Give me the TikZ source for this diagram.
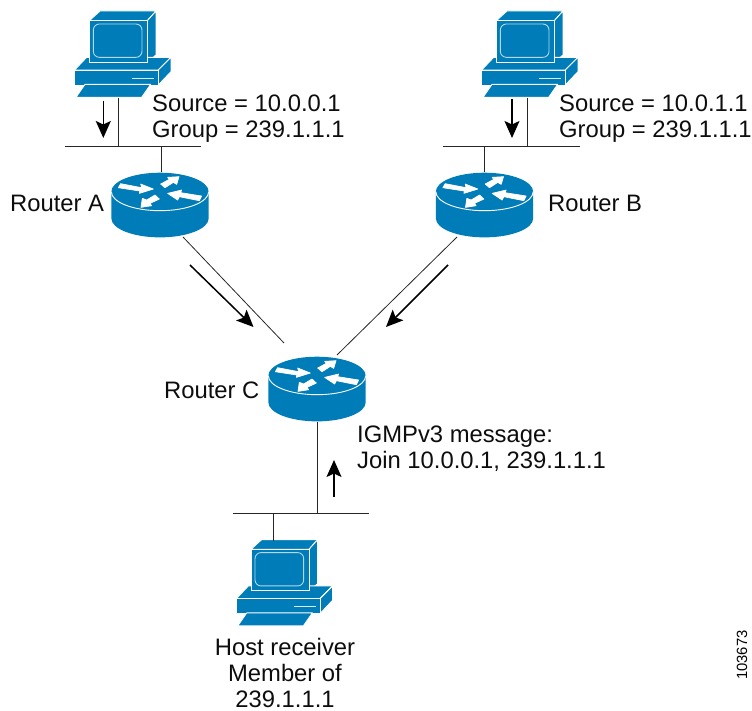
\documentclass[tikz,border=0pt]{standalone}
\usepackage{fontspec}
\setmainfont{Liberation Sans}
\usetikzlibrary{arrows.meta,calc}
\definecolor{cisco}{HTML}{007DB8}
\tikzset{
  x=1pt,y=-1pt,
  wire/.style={line width=0.8pt,black!85},
  flow/.style={line width=1.5pt,-{Stealth[length=17pt,width=15pt,inset=3.5pt]}},
  lbl/.style={inner sep=0pt,font=\fontsize{23.8}{26}\selectfont,text=black!95},
  lines/.style={lbl,align=left,anchor=west},
  anchorbox/.style={inner sep=0pt,minimum width=97pt,minimum height=66pt},
  face/.style={fill=cisco,draw=white,line width=0.9pt,line join=round},
  wht/.style={fill=white,draw=white,line width=0.7pt,line join=round},
  computer/.pic={
    \begin{scope}[x=0.3333pt,y=-0.3333pt]
      \path[face] (88,62)--(120,33)--(288,33)--(262,62)--cycle;
      \path[face] (262,62)--(288,33)--(288,165)--(262,187)--cycle;
      \path[face] (44,210)--(80,172)--(333,172)--(295,210)--cycle;
      \path[face] (295,210)--(333,172)--(333,215)--(295,255)--cycle;
      \path[face] (44,210) rectangle (295,255);
      \path[face] (88,62) rectangle (262,187);
      \draw[draw=white!70!cisco,line width=0.9pt,rounded corners=6pt] (100,72) rectangle (246,172);
      \draw[white!85!cisco,line width=1.1pt] (216,235)--(282,235);
      \path[face] (48,292)--(75,253)--(272,253)--(245,292)--cycle;
    \end{scope}
  },
  router/.pic={
    \begin{scope}[x=0.3333pt,y=-0.3333pt]
      \path[fill=cisco] (-146,0) -- (-146,80) arc[start angle=180,end angle=360,x radius=48.67pt,y radius=19pt]
        -- (146,0) arc[start angle=0,end angle=180,x radius=48.67pt,y radius=19pt] -- cycle;
      \draw[white,line width=0.9pt] (-146,0) arc[start angle=180,end angle=360,x radius=48.67pt,y radius=19pt];
      \path[wht] (-118,-24)--(-55,-12)--(-58,-23)--(-20,-8)--(-62,5)--(-60,-2)--(-125,-12)--cycle;
      \path[wht] (2,-23)--(28,-37)--(23,-43)--(57,-45)--(50,-22)--(40,-28)--(15,-12)--cycle;
      \path[wht] (-15,10)--(-40,25)--(-53,20)--(-57,47)--(-25,42)--(-30,35)--(-2,22)--cycle;
      \path[wht] (125,13)--(62,3)--(65,-5)--(23,5)--(53,25)--(58,15)--(118,27)--cycle;
    \end{scope}
  },
}
\begin{document}
\begin{tikzpicture}
\useasboundingbox (0,0) rectangle (752,711);
% routers
\node[anchorbox] (rA) at (160,205) {};
\node[anchorbox] (rB) at (484.5,205) {};
\node[anchorbox] (rC) at (317,389) {};
\pic at (160,191.7) {router};
\pic at (484.5,191.7) {router};
\pic at (317,375.7) {router};
% computers
\node[inner sep=0pt,minimum width=97pt,minimum height=90pt] (hA) at (122,52) {};
\node[inner sep=0pt,minimum width=97pt,minimum height=90pt] (hB) at (530,52) {};
\node[inner sep=0pt,minimum width=97pt,minimum height=90pt] (hC) at (284,586) {};
\pic at (60,0) {computer};
\pic at (467,0) {computer};
\pic at (221.7,528.6) {computer};
% LAN segments
\coordinate (lanAl) at (65,146);  \coordinate (lanAr) at (201,146);
\coordinate (lanBl) at (443,146); \coordinate (lanBr) at (580,146);
\coordinate (lanCl) at (233,513); \coordinate (lanCr) at (369,513);
\draw[wire] (lanAl)--(lanAr);
\draw[wire] (lanBl)--(lanBr);
\draw[wire] (lanCl)--(lanCr);
% stems
\coordinate (sA) at (118.5,98);
\coordinate (sB) at (527,98);
\coordinate (sC) at (273,541);
\draw[wire] (sA)--(sA |- lanAl);
\draw[wire] (sB)--(sB |- lanBl);
\draw[wire] (sC)--(sC |- lanCl);
\coordinate (tA) at (161,172);
\coordinate (tB) at (484.5,172);
\draw[wire] (tA)--(tA |- lanAl);
\draw[wire] (tB)--(tB |- lanBl);
\coordinate (bC) at (317,422);
\draw[wire] (bC)--(bC |- lanCl);
% router links
\coordinate (lA) at (183,237); \coordinate (lCa) at (284,343);
\coordinate (lB) at (457,237); \coordinate (lCb) at (337,355);
\draw[wire] (lA)--(lCa);
\draw[wire] (lB)--(lCb);
% flow arrows
\coordinate (a1s) at (103.3,101); \coordinate (a1e) at (103.3,138);
\coordinate (a2s) at (512,99);    \coordinate (a2e) at (512,138);
\coordinate (a3s) at (190,265);   \coordinate (a3e) at (253.5,327);
\coordinate (a4s) at (448,265);   \coordinate (a4e) at (386,327);
\coordinate (a5s) at (334,497);   \coordinate (a5e) at (334,460);
\draw[flow] (a1s)--(a1e);
\draw[flow] (a2s)--(a2e);
\draw[flow] (a3s)--(a3e);
\draw[flow] (a4s)--(a4e);
\draw[flow] (a5s)--(a5e);
% labels
\node[lines] (txA) at (152,118.5) {Source = 10.0.0.1\\Group = 239.1.1.1};
\node[lines] (txB) at (559,118.5) {Source = 10.0.1.1\\Group = 239.1.1.1};
\node[lbl,anchor=west] (nA) at (10,203) {Router A};
\node[lbl,anchor=west] (nB) at (548,203) {Router B};
\node[lbl,anchor=west] (nC) at (164,390) {Router C};
\node[lines] (txC) at (357,449) {IGMPv3 message:\\Join 10.0.0.1, 239.1.1.1};
\node[lbl,align=center] (txH) at (285,673) {Host receiver\\Member of\\239.1.1.1};
\node[inner sep=0pt,rotate=90,font=\fontsize{14.8}{16}\selectfont] (num) at (742,655) {103673};
\end{tikzpicture}
\end{document}
